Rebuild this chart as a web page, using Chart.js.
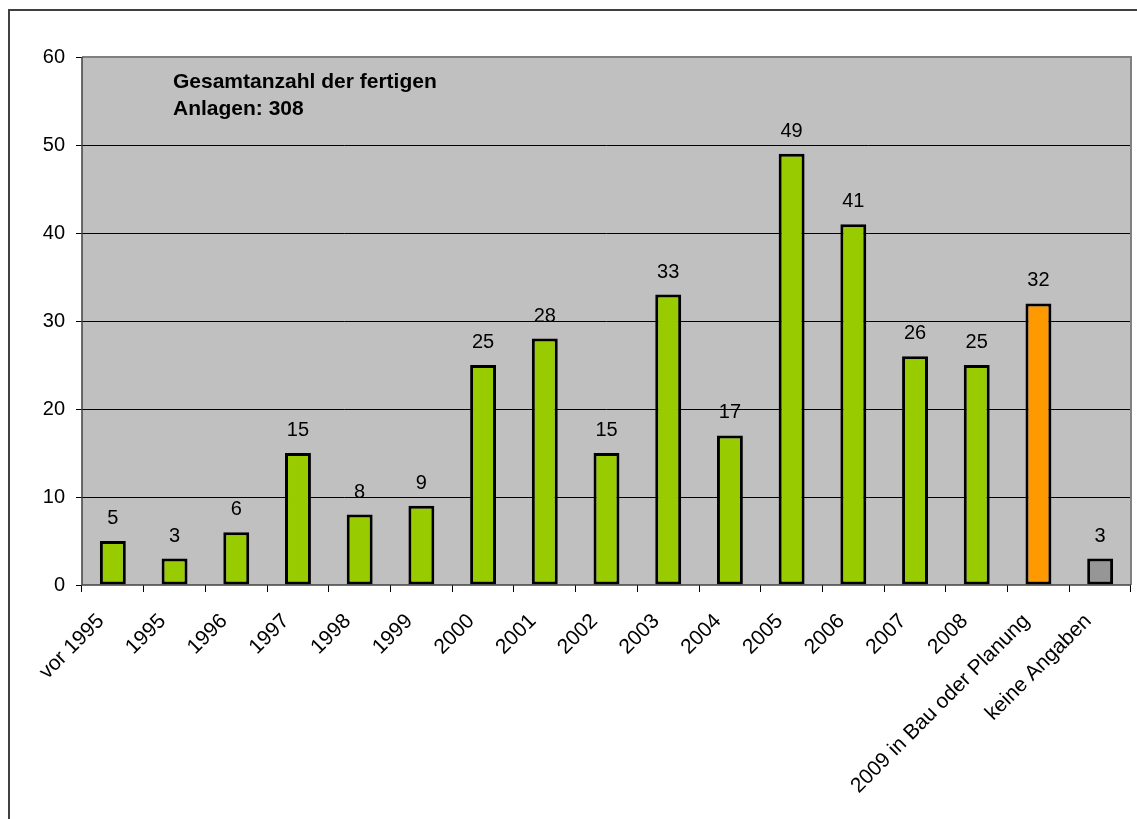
<!DOCTYPE html>
<html>
<head>
<meta charset="utf-8">
<script src="https://cdn.jsdelivr.net/npm/chart.js@4/dist/chart.umd.min.js"></script>
<style>
html,body{margin:0;padding:0;background:#fff;}
#wrap{width:1137px;height:819px;position:relative;}
</style>
</head>
<body>
<div id="wrap"><canvas id="c" width="1137" height="819"></canvas></div>
<script>
const categories = ["vor 1995","1995","1996","1997","1998","1999","2000","2001","2002","2003","2004","2005","2006","2007","2008","2009 in Bau oder Planung","keine Angaben"];
const values = [5,3,6,15,8,9,25,28,15,33,17,49,41,26,25,32,3];
const barColors = ["#99CC00","#99CC00","#99CC00","#99CC00","#99CC00","#99CC00","#99CC00","#99CC00","#99CC00","#99CC00","#99CC00","#99CC00","#99CC00","#99CC00","#99CC00","#FF9900","#969696"];
const yTicks = [0,10,20,30,40,50,60];
const noteLines = ["Gesamtanzahl der fertigen","Anlagen: 308"];

const FONT = "'Liberation Sans', Arial, sans-serif";

const decor = {
  id: 'decor',
  beforeDraw(chart) {
    const ctx = chart.ctx, a = chart.chartArea;
    ctx.save();
    ctx.fillStyle = '#fff';
    ctx.fillRect(0,0,chart.width,chart.height);
    ctx.fillStyle = '#C0C0C0';
    ctx.fillRect(a.left, a.top, a.right - a.left, a.bottom - a.top);
    ctx.strokeStyle = '#404040';
    ctx.lineWidth = 2;
    ctx.beginPath();
    ctx.moveTo(9, 819);
    ctx.lineTo(9, 10);
    ctx.lineTo(1137, 10);
    ctx.stroke();
    ctx.restore();
  },
  afterDatasetsDraw(chart) {
    const ctx = chart.ctx, a = chart.chartArea;
    ctx.save();
    ctx.strokeStyle = '#808080';
    ctx.lineWidth = 2;
    ctx.beginPath();
    ctx.moveTo(a.left, a.top);
    ctx.lineTo(a.right, a.top);
    ctx.lineTo(a.right, a.bottom);
    ctx.stroke();
    ctx.strokeStyle = '#404040';
    ctx.lineWidth = 1.5;
    ctx.beginPath();
    ctx.moveTo(a.left, a.top);
    ctx.lineTo(a.left, a.bottom);
    ctx.lineTo(a.right, a.bottom);
    ctx.stroke();
    const meta = chart.getDatasetMeta(0);
    ctx.fillStyle = '#000';
    ctx.font = '20px ' + FONT;
    ctx.textAlign = 'center';
    ctx.textBaseline = 'alphabetic';
    meta.data.forEach((bar, i) => {
      ctx.fillText(String(values[i]), bar.x, bar.y - 17);
    });
    ctx.font = 'bold 21px ' + FONT;
    ctx.textAlign = 'left';
    ctx.fillText(noteLines[0], 173, 88);
    ctx.fillText(noteLines[1], 173, 115);
    ctx.restore();
  }
};

new Chart(document.getElementById('c'), {
  type: 'bar',
  data: {
    labels: categories,
    datasets: [{
      data: values,
      backgroundColor: barColors,
      borderColor: '#000',
      borderWidth: 3,
      borderSkipped: false,
      barPercentage: 0.42,
      categoryPercentage: 1.0
    }]
  },
  options: {
    responsive: false,
    animation: false,
    devicePixelRatio: 1,
    layout: { padding: { top: 57, right: 6, left: 0, bottom: 0 } },
    plugins: { legend: { display: false }, tooltip: { enabled: false } },
    scales: {
      x: {
        grid: { display: true, drawOnChartArea: false, drawTicks: true, tickLength: 7, tickColor: '#000', offset: true },
        border: { display: false },
        ticks: { color: '#000', font: { family: FONT, size: 21 }, minRotation: 45, maxRotation: 45, autoSkip: false, padding: 17, labelOffset: -12 },
        afterFit(s) { s.height = 819 - 585; }
      },
      y: {
        min: 0, max: 60,
        afterBuildTicks(s) { s.ticks = yTicks.map(v => ({ value: v })); },
        grid: {
          color: (c) => (c.tick && (c.tick.value === 0 || c.tick.value === 60)) ? 'rgba(0,0,0,0)' : '#000',
          lineWidth: 1,
          drawTicks: true, tickLength: 6, tickColor: '#000'
        },
        border: { display: false },
        ticks: { color: '#000', font: { family: FONT, size: 20 }, padding: 11 },
        afterFit(s) { s.width = 82; }
      }
    }
  },
  plugins: [decor]
});
</script>
</body>
</html>
